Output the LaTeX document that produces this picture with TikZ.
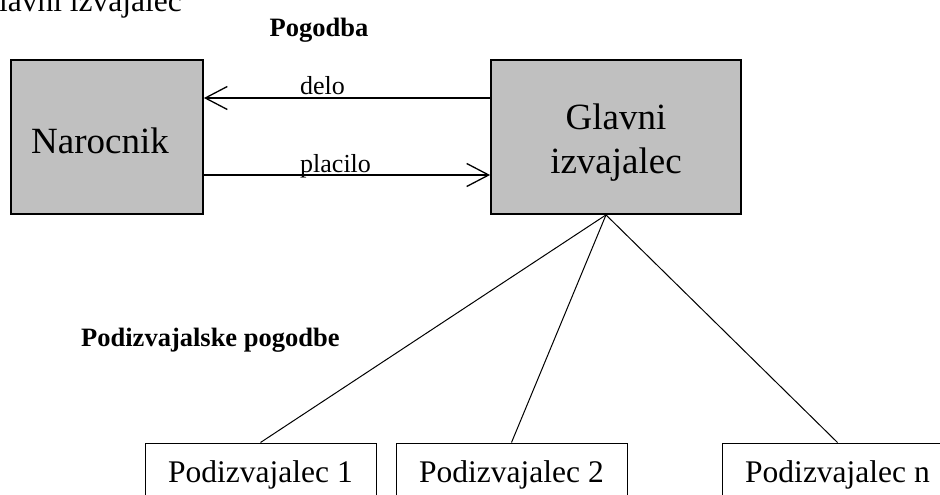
\documentclass[tikz,border=0pt]{standalone}
\usepackage{fontspec}
\setmainfont{Liberation Serif}
\usetikzlibrary{arrows.meta}
\definecolor{boxgray}{HTML}{C0C0C0}
\begin{document}
\begin{tikzpicture}[x=1pt,y=-1pt,
  mainbox/.style={draw=black, fill=boxgray, line width=1.8pt, inner sep=0pt},
  subbox/.style={draw=black, fill=white, line width=1pt, inner sep=0pt,
    minimum width=231pt, minimum height=64pt},
  bigtext/.style={font=\fontsize{37}{44}\selectfont, inner sep=0pt},
  midtext/.style={font=\fontsize{31.5}{38}\selectfont, inner sep=0pt},
  smalltext/.style={font=\fontsize{26}{30}\selectfont, inner sep=0pt},
  headtext/.style={font=\fontsize{26.5}{30}\selectfont\bfseries, inner sep=0pt},
  flow/.style={line width=1.3pt,
    -{Straight Barb[length=22pt,width=23pt,line width=1.3pt]}},
  branch/.style={line width=1pt}]
\useasboundingbox (0,0) rectangle (940,495);
\clip (0,0) rectangle (940,495);

% heading running off the top edge
\node[midtext, anchor=base east] (title) at (182,12) {Glavni izvajalec};
\node[headtext, anchor=base] (contract) at (319,37) {Pogodba};

% main parties
\node[mainbox, minimum width=192pt, minimum height=154pt] (client) at (107,137) {};
\node[bigtext, anchor=base] (clientlbl) at (100,153) {Narocnik};
\node[mainbox, minimum width=250pt, minimum height=154pt] (main) at (616,137) {};
% the base anchor of a two-line node sits on its last line
\node[bigtext, anchor=base, align=center] (mainlbl) at (616,173) {Glavni\\izvajalec};

% flows between the parties
\coordinate (workrow) at (0,98);
\coordinate (payrow) at (0,175);
\draw[flow] (main.west |- workrow) -- (client.east |- workrow);
\draw[flow] (client.east |- payrow) -- (main.west |- payrow);
\node[smalltext, anchor=base west] (work) at (300,95) {delo};
\node[smalltext, anchor=base west] (pay) at (300,172) {placilo};

% subcontracts
\node[headtext, anchor=base west] (subhead) at (81,346) {Podizvajalske pogodbe};
\node[subbox, midtext] (sub1) at (260.5,475) {Podizvajalec 1};
\node[subbox, midtext] (sub2) at (511.5,475) {Podizvajalec 2};
\node[subbox, midtext] (subn) at (837.5,475) {Podizvajalec n};

\coordinate (apex) at ([xshift=-10pt]main.south);
\draw[branch] (apex) -- (sub1.north);
\draw[branch] (apex) -- (sub2.north);
\draw[branch] (apex) -- (subn.north);
\end{tikzpicture}
\end{document}
